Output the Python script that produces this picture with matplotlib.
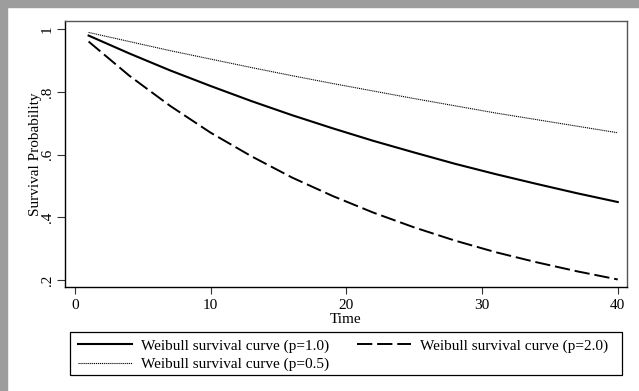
import numpy as np
import matplotlib.pyplot as plt
from matplotlib.patches import Rectangle

# data
time = [1, 4, 7, 10, 13, 16, 19, 22, 25, 28, 31, 34, 37, 40]
surv_p10 = [0.980, 0.923, 0.869, 0.819, 0.771, 0.726, 0.684, 0.644, 0.607, 0.571, 0.538, 0.507, 0.477, 0.449]
surv_p20 = [0.961, 0.852, 0.756, 0.670, 0.595, 0.527, 0.468, 0.415, 0.368, 0.326, 0.289, 0.257, 0.228, 0.202]
surv_p05 = [0.990, 0.961, 0.932, 0.905, 0.878, 0.852, 0.827, 0.803, 0.779, 0.756, 0.733, 0.712, 0.691, 0.670]
xticks = [0, 10, 20, 30, 40]
yticks = [0.2, 0.4, 0.6, 0.8, 1.0]
ytick_labels = ['.2', '.4', '.6', '.8', '1']

plt.rcParams['font.family'] = ['Liberation Serif', 'DejaVu Serif']
plt.rcParams['lines.scale_dashes'] = False

W, H = 639, 391
fig = plt.figure(figsize=(W / 100, H / 100), dpi=100)

# gray screenshot frame on top and left
gray = '#9d9d9d'
fig.patches.append(Rectangle((0, 1 - 7 / H), 1, 7 / H, transform=fig.transFigure, color=gray, zorder=0))
fig.patches.append(Rectangle((0, 0), 7 / W, 1, transform=fig.transFigure, color=gray, zorder=0))

ax = fig.add_axes([65 / W, 1 - 287.3 / H, (627 - 65) / W, (287.3 - 21) / H])

l1, = ax.plot(time, surv_p10, color='black', lw=1.5, label='Weibull survival curve (p=1.0)')
l2, = ax.plot(time, surv_p20, color='black', lw=1.4, dashes=(11, 3.5), label='Weibull survival curve (p=2.0)')
l3, = ax.plot(time, surv_p05, color='black', lw=0.8, dashes=(0.8, 0.6), label='Weibull survival curve (p=0.5)')

ax.set_xlim(-0.74, 40.68)
ax.set_ylim(0.177, 1.0265)
ax.set_xticks(xticks)
ax.set_yticks(yticks)
ax.set_yticklabels(ytick_labels, rotation=90, va='center')
ax.tick_params(labelsize=11, length=5, width=0.8, colors='#333333', labelcolor='black')
ax.tick_params(axis='y', length=6, pad=2)
for s in ax.spines.values():
    s.set_linewidth(1.0)
ax.spines['top'].set_color('#555555')
ax.spines['right'].set_color('#555555')

ax.set_xlabel('Time', fontsize=11, labelpad=1)
ax.set_ylabel('Survival Probability', fontsize=11, labelpad=-1)

# legend box
fig.patches.append(Rectangle((70 / W, 1 - 375.3 / H), (622.3 - 70) / W, (375.3 - 331.7) / H,
                             transform=fig.transFigure, fill=False, edgecolor='black', lw=0.9))
fig.legend(handles=[l1, l3, l2], ncol=2, frameon=False, fontsize=11,
           loc='upper left', bbox_to_anchor=(75 / W, 1 - 336 / H),
           handlelength=3.5, handletextpad=0.6, columnspacing=1.86,
           labelspacing=0.28, borderpad=0.2, borderaxespad=0)

fig.savefig('out.png', dpi=100)
